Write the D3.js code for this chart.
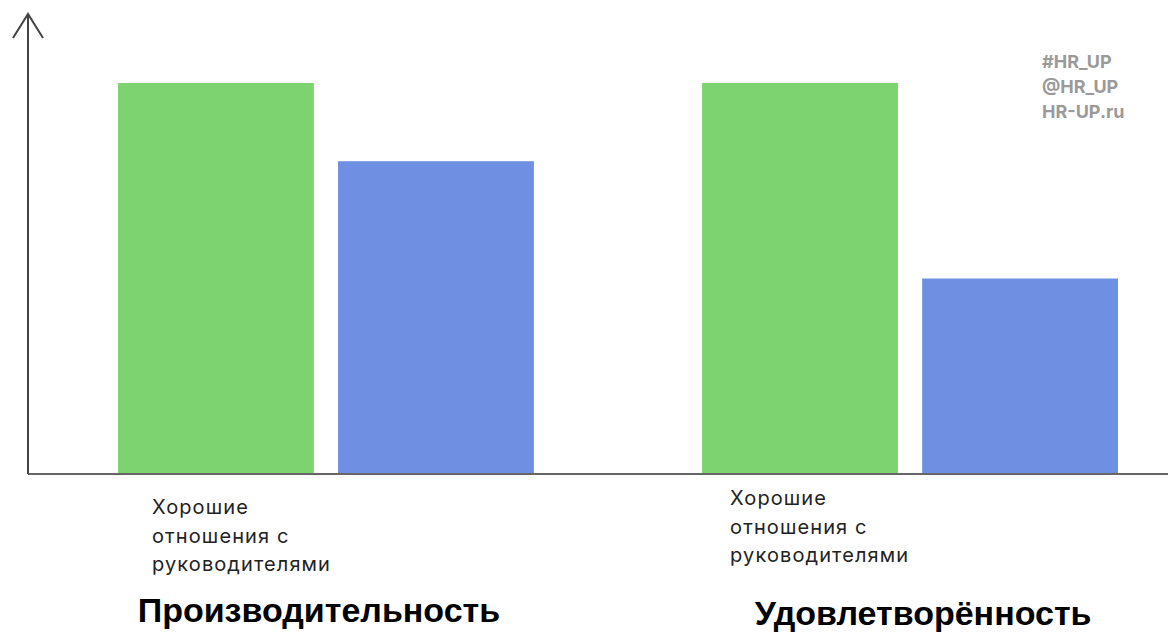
<!DOCTYPE html>
<html>
<head>
<meta charset="utf-8">
<script src="https://cdn.jsdelivr.net/npm/d3@7"></script>
<style>
  body { margin: 0; background: #fff; }
</style>
</head>
<body>
<div id="chart"></div>
<script>
const groups = ['Производительность', 'Удовлетворённость'];
const series = ['good', 'other'];
const goodValues = [100, 100];
const otherValues = [80, 50];
const barLabel = ['Хорошие', 'отношения с', 'руководителями'];
const watermark = ['#HR_UP', '@HR_UP', 'HR-UP.ru'];

const width = 1168;
const height = 632;
const margin = {top: 14, left: 28, bottom: 158};
const baseY = height - margin.bottom;

const svg = d3.select('#chart')
  .append('svg')
  .attr('width', width)
  .attr('height', height)
  .attr('viewBox', [0, 0, width, height]);

const x0 = d3.scaleBand()
  .domain(groups)
  .range([118, 1118])
  .paddingInner(0.288);

const x1 = d3.scaleBand()
  .domain(series)
  .range([0, x0.bandwidth()])
  .paddingInner(0.11);

const y = d3.scaleLinear()
  .domain([0, 100])
  .range([baseY, 83]);

const color = d3.scaleOrdinal()
  .domain(series)
  .range(['#7dd370', '#6f8fe2']);

const data = groups.map((g, i) => ({group: g, values: [
  {key: 'good', value: goodValues[i]},
  {key: 'other', value: otherValues[i]}
]}));

// bars
svg.append('g')
  .selectAll('g')
  .data(data)
  .join('g')
  .attr('transform', d => `translate(${x0(d.group)},0)`)
  .selectAll('rect')
  .data(d => d.values)
  .join('rect')
  .attr('x', d => x1(d.key))
  .attr('y', d => y(d.value))
  .attr('width', x1.bandwidth())
  .attr('height', d => y(0) - y(d.value))
  .attr('fill', d => color(d.key));

// axes
svg.append('line')
  .attr('x1', margin.left).attr('x2', width)
  .attr('y1', baseY).attr('y2', baseY)
  .attr('stroke', '#666').attr('stroke-width', 2);

svg.append('line')
  .attr('x1', margin.left).attr('x2', margin.left)
  .attr('y1', baseY).attr('y2', margin.top)
  .attr('stroke', '#444').attr('stroke-width', 2);

svg.append('path')
  .attr('d', `M${margin.left - 15},${margin.top + 24} L${margin.left},${margin.top} L${margin.left + 15},${margin.top + 24}`)
  .attr('fill', 'none')
  .attr('stroke', '#444')
  .attr('stroke-width', 2);

// labels under the green bars
const labelPos = [{dx: 34, y: 514}, {dx: 28, y: 505}];
groups.forEach((g, i) => {
  const t = svg.append('text')
    .attr('font-family', 'Inter, sans-serif')
    .attr('font-size', 20)
    .attr('fill', '#222')
    .attr('letter-spacing', 1.1);
  barLabel.forEach((line, j) => {
    t.append('tspan')
      .attr('x', x0(g) + labelPos[i].dx)
      .attr('y', labelPos[i].y + j * 28.5)
      .text(line);
  });
});

// group titles
const titleY = [622, 625];
svg.append('g')
  .selectAll('text')
  .data(groups)
  .join('text')
  .attr('x', (d, i) => x0(d) + x0.bandwidth() / 2 + (i === 0 ? -7 : 13))
  .attr('y', (d, i) => titleY[i])
  .attr('text-anchor', 'middle')
  .attr('font-family', '"Liberation Sans", Arial, sans-serif')
  .attr('font-weight', 700)
  .attr('font-size', 34)
  .attr('fill', '#000')
  .text(d => d);

// watermark
svg.append('g')
  .selectAll('text')
  .data(watermark)
  .join('text')
  .attr('x', 1042)
  .attr('y', (d, i) => 68 + i * 25)
  .attr('font-family', 'Inter, sans-serif')
  .attr('font-weight', 700)
  .attr('font-size', 18)
  .attr('fill', '#9a9a9a')
  .text(d => d);
</script>
</body>
</html>
